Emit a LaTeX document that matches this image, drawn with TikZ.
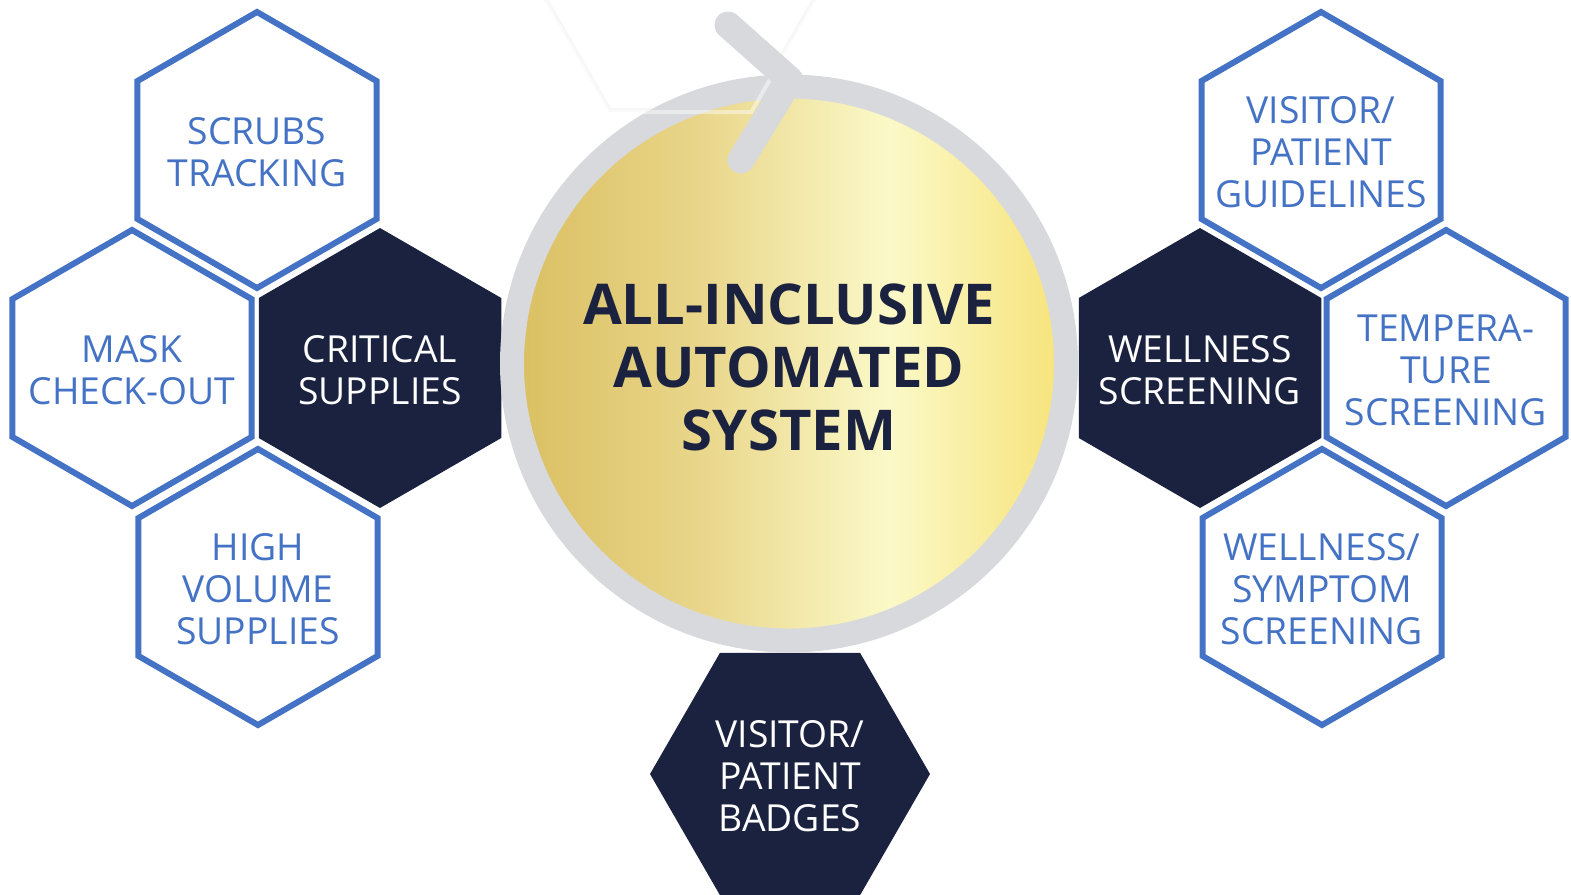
\documentclass[tikz,border=0pt]{standalone}
\usepackage{fontspec}
\setmainfont{Open Sans}
\usetikzlibrary{shapes.geometric}
\definecolor{navy}{RGB}{26,34,64}
\definecolor{hexblue}{RGB}{68,114,196}
\definecolor{ringgray}{RGB}{216,217,221}
\definecolor{goldA}{RGB}{219,192,99}
\definecolor{goldB}{RGB}{233,214,138}
\definecolor{goldC}{RGB}{251,249,200}
\definecolor{goldD}{RGB}{247,228,126}
\pgfdeclarehorizontalshading{goldshade}{100bp}{color(0bp)=(goldA); color(26bp)=(goldA); color(42bp)=(goldB); color(59bp)=(goldC); color(74bp)=(goldD); color(100bp)=(goldD)}

\begin{document}
\begin{tikzpicture}[
    hex/.style={regular polygon, regular polygon sides=6, shape border rotate=30, inner sep=0pt, outer sep=0pt},
    hexline/.style={hex, draw=hexblue, line width=0.06cm, fill=white, minimum size=2.76cm},
    hexfill/.style={hex, fill=navy, minimum size=2.80cm},
    hextext/.style={align=center, inner sep=0pt, yshift=-0.02cm, font=\fontsize{10.6}{11.9}\selectfont},
    bluetext/.style={hextext, text=hexblue},
    whitetext/.style={hextext, text=white}
  ]
  \useasboundingbox (0,0) rectangle (15.71,8.94);
  % faint hexagon behind the hub
  \node[regular polygon, regular polygon sides=6, minimum size=2.80cm, draw=black!3, line width=0.04cm] (ghost) at (6.80,9.05) {};
  % left cluster
  \node[hexfill] (critical) at (3.80,5.26) {};
  \node[hexline] (mask) at (1.32,5.26) {};
  \node[hexline] (scrubs) at (2.57,7.44) {};
  \node[hexline] (highvol) at (2.58,3.07) {};
  \node[whitetext] (critical-t) at (critical) {CRITICAL\\SUPPLIES};
  \node[bluetext] (mask-t) at (mask) {MASK\\CHECK-OUT};
  \node[bluetext] (scrubs-t) at (scrubs) {SCRUBS\\TRACKING};
  \node[bluetext] (highvol-t) at (highvol) {HIGH\\VOLUME\\SUPPLIES};
  % right cluster
  \node[hexfill] (wellness) at (12.00,5.26) {};
  \node[hexline] (temp) at (14.46,5.26) {};
  \node[hexline] (guide) at (13.21,7.44) {};
  \node[hexline] (symptom) at (13.22,3.07) {};
  \node[whitetext] (wellness-t) at (wellness) {WELLNESS\\SCREENING};
  \node[bluetext] (temp-t) at (temp) {TEMPERA-\\TURE\\SCREENING};
  \node[bluetext] (guide-t) at (guide) {VISITOR/\\PATIENT\\GUIDELINES};
  \node[bluetext] (symptom-t) at (symptom) {WELLNESS/\\SYMPTOM\\SCREENING};
  % bottom
  \node[hexfill, shape border rotate=0] (badges) at (7.90,1.20) {};
  \node[whitetext] (badges-t) at (badges) {VISITOR/\\PATIENT\\BADGES};
  % hub
  \node[circle, minimum size=5.54cm, inner sep=0pt, draw=ringgray, line width=0.24cm, shade, shading=goldshade] (hub) at (7.89,5.305) {};
  \node[text=navy, align=center, inner sep=0pt, font=\bfseries\fontsize{16}{18}\selectfont] (hub-t) at ([yshift=-0.04cm]hub.center) {ALL-INCLUSIVE\\AUTOMATED\\SYSTEM};
  \draw[white, opacity=0.45, line width=0.04cm] (ghost.corner 1) -- (ghost.corner 2) -- (ghost.corner 3)
    -- (ghost.corner 4) -- (ghost.corner 5) -- (ghost.corner 6) -- cycle;
  \draw[ringgray, line width=0.27cm, line cap=round, line join=round] (7.28,8.69) -- (7.90,8.14) -- (7.41,7.34);
\end{tikzpicture}
\end{document}
